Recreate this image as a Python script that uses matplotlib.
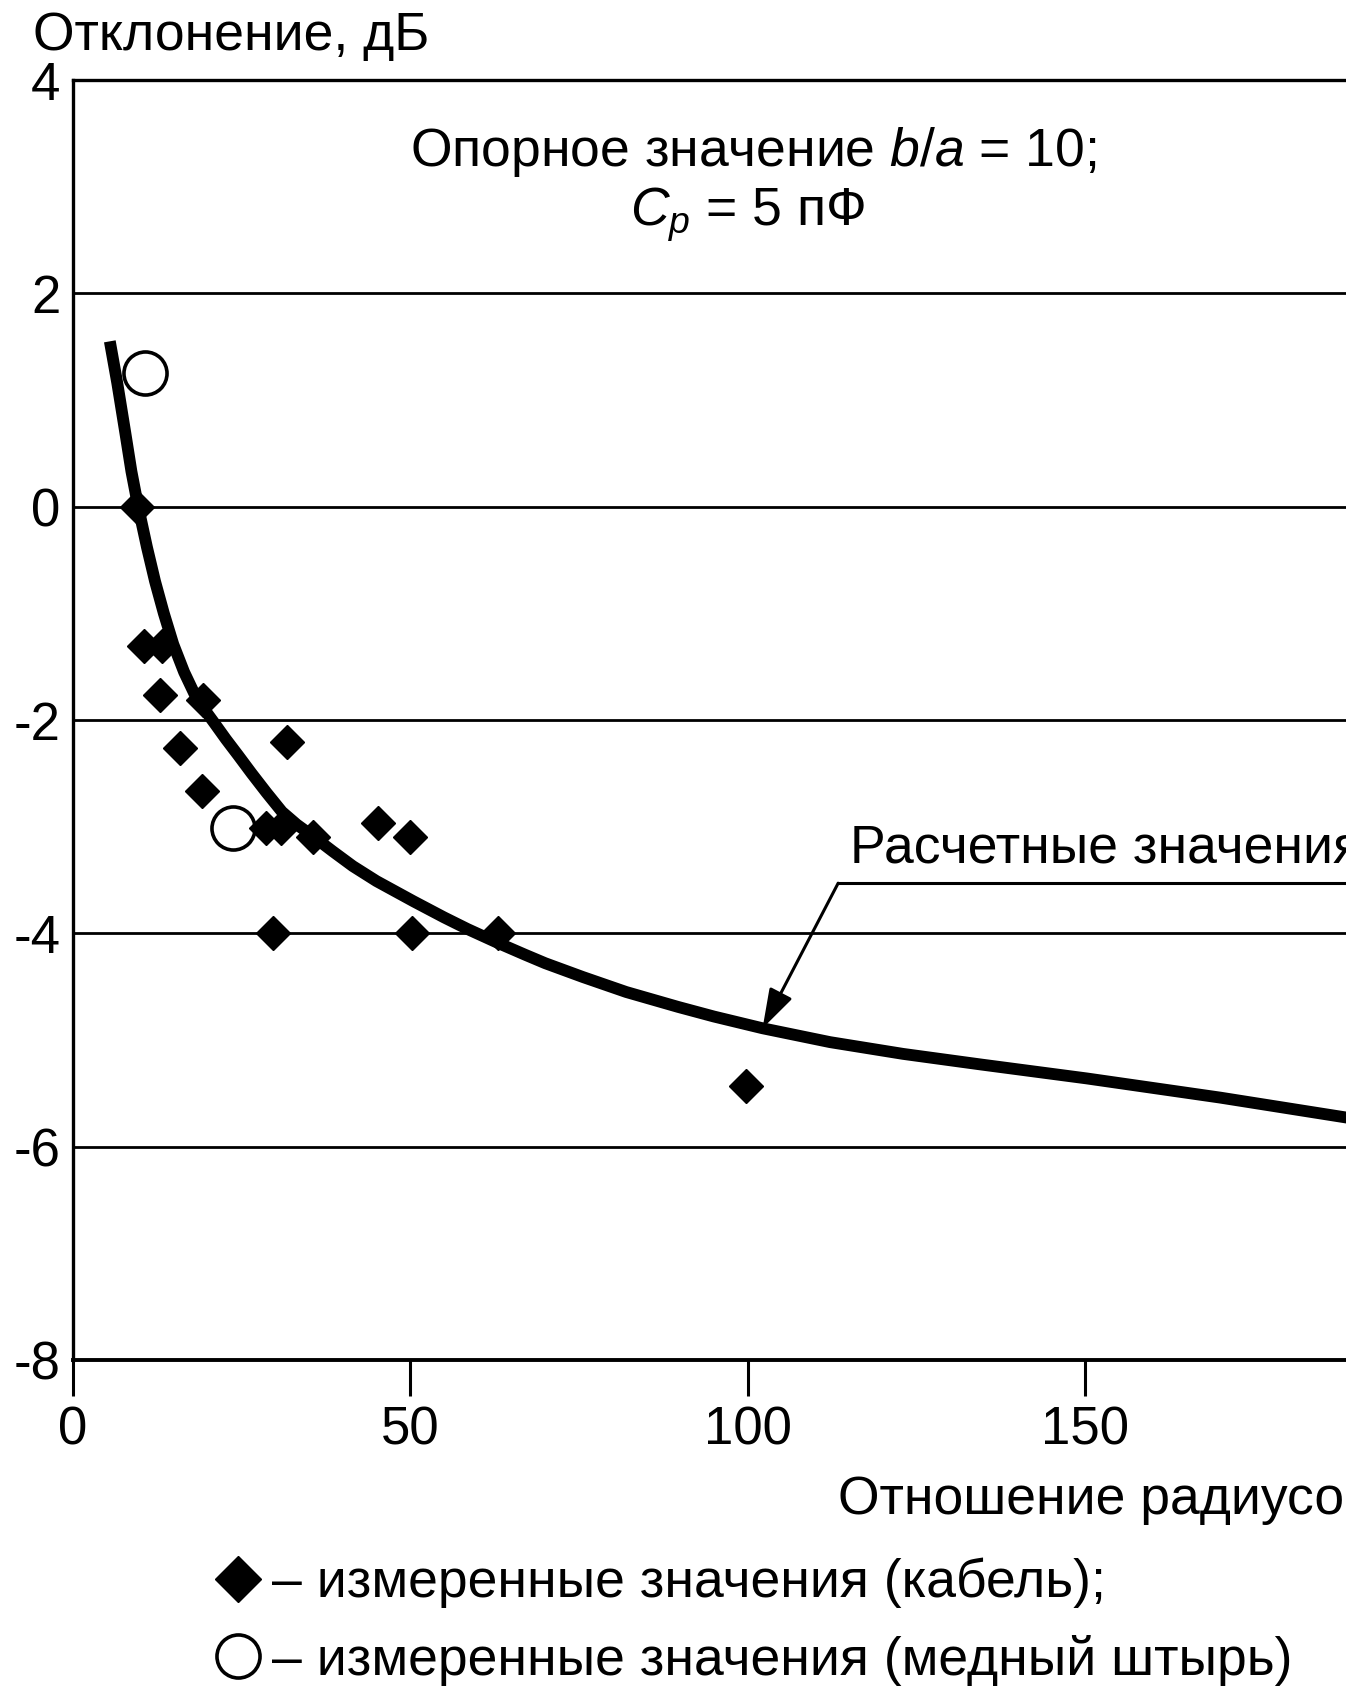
import matplotlib

matplotlib.use('Agg')
import matplotlib.pyplot as plt
from matplotlib.lines import Line2D

plt.rcParams['font.family'] = ['Liberation Sans', 'DejaVu Sans']
plt.rcParams['axes.unicode_minus'] = False
plt.rcParams['mathtext.fontset'] = 'custom'
plt.rcParams['mathtext.rm'] = 'Liberation Sans'
plt.rcParams['mathtext.it'] = 'Liberation Sans:italic'

# measured values: cable
cable_x = [9.5, 10.5, 13.2, 12.9, 19.3, 15.9, 31.7, 19.1, 28.7, 30.9, 35.6,
           45.3, 50.0, 29.6, 50.2, 63.0, 99.8]
cable_y = [0.0, -1.31, -1.31, -1.77, -1.81, -2.26, -2.21, -2.67, -3.01, -3.01,
           -3.10, -2.97, -3.10, -4.0, -4.0, -4.0, -5.43]

# measured values: copper pin
pin_x = [10.7, 23.8]
pin_y = [1.25, -3.01]

# calculated curve
calc_x = [5.5, 6.6, 7.8, 8.7, 9.7, 11.0, 12.2, 13.5, 14.9, 16.5, 18.0, 19.5,
          21.0, 22.7, 24.5, 26.5, 28.7, 31.0, 33.2, 35.6, 38.5, 41.5, 45.0,
          50.5, 55.0, 58.5, 63.0, 67.0, 70.0, 75.6, 82.0, 89.7, 95.0, 102.2,
          112.2, 123.0, 134.6, 150.2, 170.0, 190.0]
calc_y = [1.55, 1.16, 0.69, 0.33, 0.0, -0.38, -0.70, -1.0, -1.29, -1.55,
          -1.75, -1.90, -2.03, -2.18, -2.33, -2.50, -2.68, -2.86, -2.98, -3.09,
          -3.23, -3.37, -3.51, -3.70, -3.85, -3.96, -4.09, -4.20, -4.28, -4.41,
          -4.55, -4.69, -4.78, -4.89, -5.02, -5.13, -5.23, -5.36, -5.54, -5.74]

x_ticks = [0, 50, 100, 150]
y_ticks = [4, 2, 0, -2, -4, -6, -8]

W, H = 1346, 1687
FS = 38.5
TICK_FS = 38

fig = plt.figure(figsize=(W / 100, H / 100), dpi=100)
ax = fig.add_axes([72.7 / W, (H - 1360) / H, 200 * 6.75 / W, 1280 / H])

ax.set_xlim(0, 200)
ax.set_ylim(-8, 4)
ax.set_xticks(x_ticks)
ax.set_xticklabels([str(v) for v in x_ticks])
ax.set_yticks(y_ticks)
ax.set_yticklabels([str(v) for v in y_ticks])
ax.tick_params(axis='x', direction='out', length=26, width=2.2, pad=7,
               labelsize=TICK_FS)
ax.tick_params(axis='y', length=0, pad=9, labelsize=TICK_FS)
ax.grid(axis='y', color='black', lw=2.0)
ax.set_axisbelow(True)
ax.spines['right'].set_visible(False)
for s in ['top', 'left']:
    ax.spines[s].set_linewidth(2.4)
ax.spines['bottom'].set_linewidth(2.8)

ax.plot(calc_x, calc_y, color='black', lw=8.5, solid_capstyle='butt',
        solid_joinstyle='round', zorder=3)
ax.plot(cable_x, cable_y, ls='none', marker='D', ms=17, color='black',
        zorder=4)
ax.plot(pin_x, pin_y, ls='none', marker='o', ms=31, mfc='none', mec='black',
        mew=2.6, zorder=4)

# leader for the calculated curve
lead_x, lead_y = 113.4, -3.53
tip_x, tip_y = 102.2, -4.89
ax.plot([lead_x, 200], [lead_y, lead_y], color='black', lw=2.2)
ax.annotate('', xy=(tip_x, tip_y), xytext=(lead_x, lead_y),
            arrowprops=dict(arrowstyle='-|>,head_length=1.1,head_width=0.35',
                            color='black', lw=2.2, shrinkA=0, shrinkB=0,
                            mutation_scale=22))
ax.text(115.2, -3.34, 'Расчетные значения', fontsize=FS, va='baseline',
        ha='left')

fig.text(33 / W, 1 - 50 / H, 'Отклонение, дБ', fontsize=FS, va='baseline')
fig.text(753 / W, 1 - 166 / H, 'Опорное значение $b/a$ = 10;', fontsize=FS,
         va='baseline', ha='center')
fig.text(748 / W, 1 - 226 / H, '$C_p$ = 5 пФ', fontsize=FS, va='baseline',
         ha='center')
fig.text(838 / W, 1 - 1514 / H, 'Отношение радиусов', fontsize=FS,
         va='baseline', ha='left')

handles = [
    Line2D([], [], ls='none', marker='D', ms=23.5, color='black'),
    Line2D([], [], ls='none', marker='o', ms=31, mfc='none', mec='black',
           mew=2.6),
]
labels = ['– измеренные значения (кабель);',
          '– измеренные значения (медный штырь)']
fig.legend(handles, labels, loc='center left',
           bbox_to_anchor=(211 / W, 1 - 1622 / H), frameon=False,
           handlelength=1.0, handletextpad=0.15, labelspacing=0.5,
           borderpad=0, borderaxespad=0, fontsize=FS)

fig.savefig('out.png', dpi=100)
